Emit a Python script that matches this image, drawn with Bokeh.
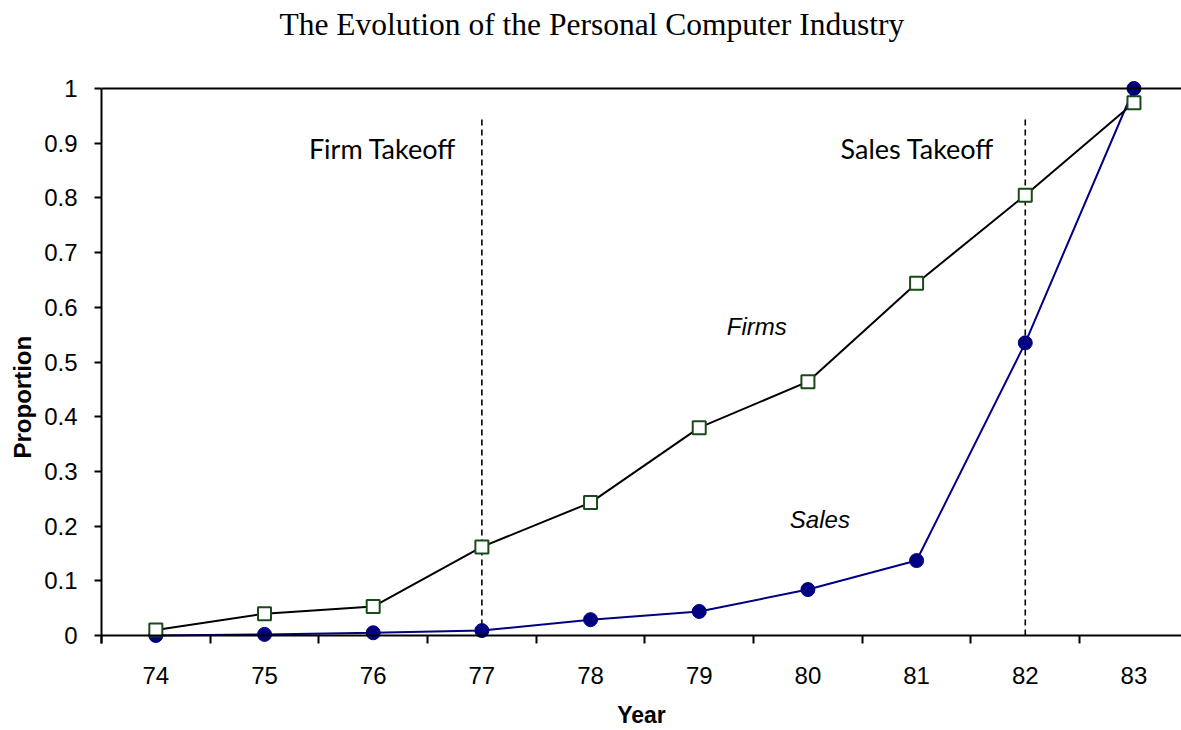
from bokeh.plotting import figure
from bokeh.models import (Range1d, FixedTicker, NumeralTickFormatter, Span, Label,
                          ColumnDataSource, Title)
from bokeh.embed import file_html
from bokeh.resources import INLINE

# ---- data ----
years = [74, 75, 76, 77, 78, 79, 80, 81, 82, 83]
firms = [0.010, 0.040, 0.053, 0.162, 0.243, 0.380, 0.464, 0.644, 0.805, 0.974]
sales = [0.000, 0.002, 0.005, 0.009, 0.029, 0.044, 0.084, 0.137, 0.535, 1.000]
takeoff_years = [77, 82]
takeoff_top = 0.945
y_ticks = [0, 0.1, 0.2, 0.3, 0.4, 0.5, 0.6, 0.7, 0.8, 0.9, 1]

title_text = "The Evolution of the Personal Computer Industry"

px_per_year = 108.78
frame_w = 1081
x0 = years[0] - 0.5
x1 = x0 + frame_w / px_per_year

p = figure(width=1181, height=730, output_backend="svg", toolbar_location=None,
           x_range=Range1d(x0, x1), y_range=Range1d(-0.0146, 1.0146),
           min_border_left=100, min_border_right=0, min_border_top=80,
           min_border_bottom=86)
p.title = None
p.outline_line_color = None
p.grid.grid_line_color = None
p.background_fill_color = "white"
p.border_fill_color = "white"

# spacer between frame and chart title, then the chart title itself
p.add_layout(Title(text=" ", text_font_size="1px", standoff=32), "above")
p.add_layout(Title(text=title_text, align="left", offset=178, standoff=8,
                   text_font="Liberation Serif", text_font_size="31.5px",
                   text_font_style="normal", text_color="black"), "above")

# x axis
xa = p.xaxis[0]
xa.ticker = FixedTicker(ticks=years, minor_ticks=[y - 0.5 for y in years] + [years[-1] + 0.5])
xa.axis_line_color = None
xa.major_tick_out = 0
xa.major_tick_in = 0
xa.minor_tick_in = 8
xa.minor_tick_out = 0
xa.minor_tick_line_color = "black"
xa.minor_tick_line_width = 2
xa.major_label_standoff = 23
xa.major_label_text_font = "Liberation Sans"
xa.major_label_text_font_size = "24px"
xa.major_label_text_color = "black"
xa.axis_label = "Year"
xa.axis_label_text_font = "Liberation Sans"
xa.axis_label_text_font_style = "bold"
xa.axis_label_text_font_size = "23px"
xa.axis_label_text_color = "black"
xa.axis_label_standoff = 15

# y axis
ya = p.yaxis[0]
ya.ticker = FixedTicker(ticks=y_ticks)
ya.formatter = NumeralTickFormatter(format="0.[0]")
ya.bounds = (-0.0146, 1)
ya.axis_line_width = 2
ya.axis_line_color = "black"
ya.major_tick_out = 7
ya.major_tick_in = 0
ya.major_tick_line_width = 2
ya.minor_tick_out = 0
ya.minor_tick_in = 0
ya.major_label_standoff = 17
ya.major_label_text_font = "Liberation Sans"
ya.major_label_text_font_size = "24px"
ya.major_label_text_color = "black"

p.add_layout(Title(text="Proportion", align="left", offset=185, standoff=12,
                   text_font="Liberation Sans", text_font_style="bold",
                   text_font_size="24px", text_color="black"), "left")

# baseline and top line
p.add_layout(Span(location=0, dimension="width", line_color="black", line_width=2))
p.add_layout(Span(location=1, dimension="width", line_color="black", line_width=2))

# takeoff dashed lines
tk = ColumnDataSource(dict(x=takeoff_years, y0=[0] * len(takeoff_years),
                           y1=[takeoff_top] * len(takeoff_years)))
p.segment(x0="x", y0="y0", x1="x", y1="y1", source=tk, line_color="black",
          line_width=1.6, line_dash="6 4")

src = ColumnDataSource(dict(year=years, firms=firms, sales=sales))
# sales
p.line("year", "sales", source=src, line_color="#000080", line_width=2)
p.scatter("year", "sales", source=src, marker="circle", size=14,
          fill_color="#000080", line_color="#000080")
# firms
p.line("year", "firms", source=src, line_color="black", line_width=2)
p.scatter("year", "firms", source=src, marker="square", size=13,
          fill_color="white", line_color="#1a4a1a", line_width=2)

# text annotations
for txt, x, y, font, size, style in [
    ("Firm Takeoff", 76.085, 0.89, "Lato", "27px", "normal"),
    ("Sales Takeoff", 81.007, 0.89, "Lato", "27px", "normal"),
    ("Firms", 79.53, 0.564, "Liberation Sans", "24px", "italic"),
    ("Sales", 80.11, 0.212, "Liberation Sans", "24px", "italic"),
]:
    p.add_layout(Label(x=x, y=y, text=txt, text_font=font, text_font_size=size,
                       text_font_style=style, text_align="center",
                       text_baseline="middle", text_color="black"))

open("out.html", "w").write(file_html(p, INLINE))
